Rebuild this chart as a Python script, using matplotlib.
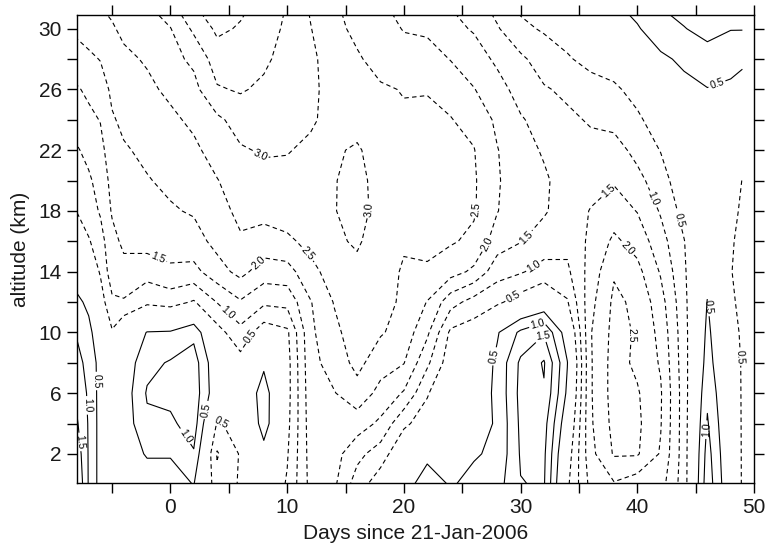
import numpy as np
import matplotlib
matplotlib.use("Agg")
import matplotlib.pyplot as plt

plt.rcParams['font.family'] = ['Liberation Sans', 'DejaVu Sans']

# -----------------------------
# Data
# -----------------------------
days = [-8, -7, -6, -5, -4, -2, 0, 2, 4, 6, 8, 10, 12, 14, 16, 18, 20, 22, 24, 26, 28,
        30, 32, 34, 36, 38, 40, 42, 44, 46, 48, 49]
alt = [0, 2, 4, 6, 8, 10, 12, 14, 16, 18, 20, 22, 24, 26, 28, 30, 31]

# one row per altitude, one value per day
z00 = [2.0, 0.95, 0.3, 0.25, 0.2, 0.2, 0.2, 0.52, -0.8, -0.45, 0.0, -0.55, -1.65, -1.6, -0.75, -0.2, 0.25,
       0.8, 0.45, 0.65, 0.8, 1.48, 1.55, -0.4, -1.65, -1.95, -1.7, -1.7, -0.75, 1.3, 0.0, -0.55]
z02 = [1.8, 0.95, 0.3, 0.25, 0.2, 0.55, 0.55, 0.95, -1.05, -0.45, 0.3, -0.45, -1.7, -1.7, -1.15, -0.75, -0.05,
       0.35, 0.45, 0.45, 0.6, 1.55, 1.6, -0.2, -1.85, -2.55, -2.55, -1.95, -0.75, 1.2, -0.05, -0.55]
z04 = [1.55, 0.95, 0.3, 0.25, 0.2, 0.9, 0.9, 1.25, -0.55, -0.35, 0.75, -0.35, -1.75, -1.85, -1.75, -1.4, -0.6,
       -0.25, 0.25, 0.3, 0.55, 1.6, 1.7, 0.1, -1.93, -2.65, -2.6, -2.03, -0.75, 1.05, -0.1, -0.55]
z06 = [1.35, 0.92, 0.3, 0.25, 0.2, 1.05, 1.15, 1.3, 0.1, -0.05, 0.75, -0.3, -1.8, -1.97, -2.3, -1.85, -1.45,
       -0.55, 0.05, 0.2, 0.6, 1.65, 1.95, 0.4, -1.95, -2.7, -2.55, -2.05, -0.75, 0.9, -0.15, -0.55]
z08 = [1.15, 0.85, 0.3, 0.15, 0.15, 0.85, 1.05, 1.25, 0.05, -0.3, 0.4, -0.3, -1.85, -2.2, -2.65, -2.2, -2.02,
       -1.1, -0.2, 0.05, 0.6, 1.6, 2.05, 0.52, -1.95, -2.7, -2.4, -1.95, -0.72, 0.72, -0.2, -0.55]
z10 = [0.95, 0.62, 0.2, -0.45, 0.05, 0.52, 0.55, 0.85, -0.3, -0.85, -0.2, -0.4, -1.9, -2.38, -2.75, -2.55, -2.3,
       -1.6, -0.4, -0.25, 0.45, 1.1, 1.45, 0.2, -1.97, -2.65, -2.45, -1.85, -0.7, 0.62, -0.25, -0.6]
z12 = [0.6, 0.4, -0.25, -0.9, -0.95, -0.6, -0.7, -0.45, -1.02, -1.45, -1.1, -1.15, -1.97, -2.52, -2.8, -2.6, -2.45,
       -1.98, -1.2, -0.8, -0.6, -0.25, 0.05, -0.45, -1.85, -2.6, -2.4, -1.7, -0.65, 0.52, -0.4, -0.65]
z14 = [0.25, -0.1, -0.55, -1.3, -1.35, -1.2, -1.4, -1.35, -1.8, -2.15, -1.75, -1.8, -2.35, -2.72, -2.9, -2.7, -2.45,
       -2.45, -2.2, -1.9, -1.2, -1.05, -0.8, -0.9, -1.7, -2.45, -2.15, -1.45, -0.58, 0.35, -0.48, -0.65]
z16 = [-0.15, -0.45, -0.8, -1.35, -1.6, -1.7, -1.75, -1.8, -2.15, -2.45, -2.3, -2.4, -2.65, -2.93, -3.05, -2.8, -2.55,
       -2.6, -2.55, -2.4, -1.75, -1.52, -1.3, -1.15, -1.6, -2.1, -1.8, -1.2, -0.52, 0.2, -0.45, -0.62]
z18 = [-0.52, -0.78, -1.05, -1.55, -1.75, -1.85, -1.95, -2.05, -2.35, -2.6, -2.65, -2.75, -2.8, -2.98, -3.15, -2.85, -2.6,
       -2.65, -2.6, -2.55, -2.02, -1.65, -1.55, -1.28, -1.52, -1.75, -1.48, -0.95, -0.32, 0.15, -0.35, -0.58]
z20 = [-0.75, -0.92, -1.2, -1.65, -1.85, -1.97, -2.1, -2.25, -2.48, -2.75, -2.85, -2.9, -2.87, -2.98, -3.12, -2.85, -2.6,
       -2.65, -2.6, -2.56, -2.05, -1.7, -1.57, -1.3, -1.35, -1.45, -1.15, -0.72, -0.15, 0.15, -0.15, -0.52]
z22 = [-0.95, -1.15, -1.35, -1.78, -1.95, -2.1, -2.3, -2.4, -2.7, -2.95, -3.05, -3.02, -2.93, -2.95, -3.05, -2.8, -2.55,
       -2.63, -2.58, -2.52, -2.02, -1.68, -1.45, -1.22, -1.15, -1.2, -0.85, -0.48, 0.02, 0.2, 0.05, -0.3]
z24 = [-1.25, -1.38, -1.52, -1.95, -2.1, -2.25, -2.4, -2.6, -2.9, -3.2, -3.25, -3.1, -3.05, -2.88, -2.85, -2.7, -2.55,
       -2.58, -2.52, -2.35, -1.9, -1.55, -1.3, -1.1, -0.95, -0.85, -0.6, -0.2, 0.15, 0.35, 0.25, -0.05]
z26 = [-1.45, -1.6, -1.75, -2.1, -2.25, -2.4, -2.6, -2.85, -3.45, -3.55, -3.4, -3.15, -3.12, -2.8, -2.7, -2.55, -2.48,
       -2.48, -2.35, -2.02, -1.7, -1.3, -1.05, -0.9, -0.7, -0.6, -0.3, 0.1, 0.35, 0.48, 0.42, 0.3]
z28 = [-1.8, -1.9, -2.02, -2.25, -2.4, -2.55, -2.85, -3.1, -3.75, -3.75, -3.6, -3.3, -3.12, -2.73, -2.55, -2.35, -2.15,
       -2.25, -1.98, -1.75, -1.4, -1.1, -0.75, -0.55, -0.35, -0.2, 0.05, 0.4, 0.6, 0.8, 0.65, 0.6]
z30 = [-2.1, -2.22, -2.35, -2.45, -2.6, -2.75, -2.98, -3.6, -4.1, -3.95, -3.75, -3.4, -3.02, -2.62, -2.4, -2.15, -1.98,
       -1.9, -1.65, -1.45, -1.05, -0.6, -0.45, -0.3, -0.1, 0.2, 0.45, 0.8, 0.98, 1.15, 1.02, 1.02]
z31 = [-2.2, -2.32, -2.45, -2.55, -2.7, -2.85, -3.2, -3.9, -4.2, -4.05, -3.8, -3.45, -2.97, -2.58, -2.35, -2.05, -1.95,
       -1.85, -1.55, -1.3, -0.9, -0.48, -0.35, -0.2, 0.0, 0.35, 0.6, 0.95, 1.1, 1.2, 1.1, 1.1]

levels = [-4.0, -3.5, -3.0, -2.5, -2.0, -1.5, -1.0, -0.5, 0.5, 1.0, 1.5, 2.0]

xticks = [0, 10, 20, 30, 40, 50]
yticks = [2, 6, 10, 14, 18, 22, 26, 30]

# where the inline labels sit
label_spots = [
    (-7.6, 2.8), (-7.0, 5.2), (-6.3, 6.8), (3.0, 4.9), (0.8, 2.9),
    (4.8, 4.9), (4.5, 11.0), (6.6, 9.9), (-1.2, 14.6), (7.5, 14.6),
    (7.5, 21.4), (11.9, 15.3), (16.9, 18.1), (26.4, 18.1), (27.4, 15.7),
    (30.5, 16.2), (31.1, 14.4), (29.4, 12.3), (27.3, 8.5), (31.4, 10.7),
    (31.7, 9.9), (37.4, 19.4), (41.4, 18.8), (43.7, 17.4), (39.4, 15.7),
    (39.4, 9.8), (46.8, 26.4), (46.5, 11.7), (48.6, 8.4), (45.8, 3.6),
]

# -----------------------------
# Grid
# -----------------------------
field = np.array([z00, z02, z04, z06, z08, z10, z12, z14, z16,
                  z18, z20, z22, z24, z26, z28, z30, z31])

# -----------------------------
# Plot
# -----------------------------
fig = plt.figure(figsize=(7.65, 5.47), dpi=100)
ax = fig.add_axes([0.1007, 0.1175, 0.885, 0.855])

styles = [(0, (4, 3)) if lv < 0 else 'solid' for lv in levels]
cs = ax.contour(days, alt, field, levels=levels, colors='black',
                linewidths=0.8, linestyles=styles)

ax.clabel(cs, manual=label_spots, inline=True, inline_spacing=2,
          fontsize=7.5, fmt=lambda v: f"{abs(v):.1f}")

ax.set_xlim(-8, 50)
ax.set_ylim(0.1, 30.9)

ax.set_xticks(xticks)
ax.set_xticks(np.arange(-5, 50, 10), minor=True)
ax.set_yticks(yticks)
ax.set_yticks(np.arange(4, 30, 4), minor=True)

ax.tick_params(which='both', direction='out', length=7.5, width=1,
               top=True, right=True, labeltop=False, labelright=False,
               labelsize=15, labelcolor='#1a1a1a', pad=3.5)

for sp in ax.spines.values():
    sp.set_linewidth(1.0)

ax.set_xlabel("Days since 21-Jan-2006", fontsize=15, color='#1a1a1a', labelpad=5)
ax.set_ylabel("altitude (km)", fontsize=15, color='#1a1a1a', labelpad=6)

fig.savefig("out.png", dpi=100)
